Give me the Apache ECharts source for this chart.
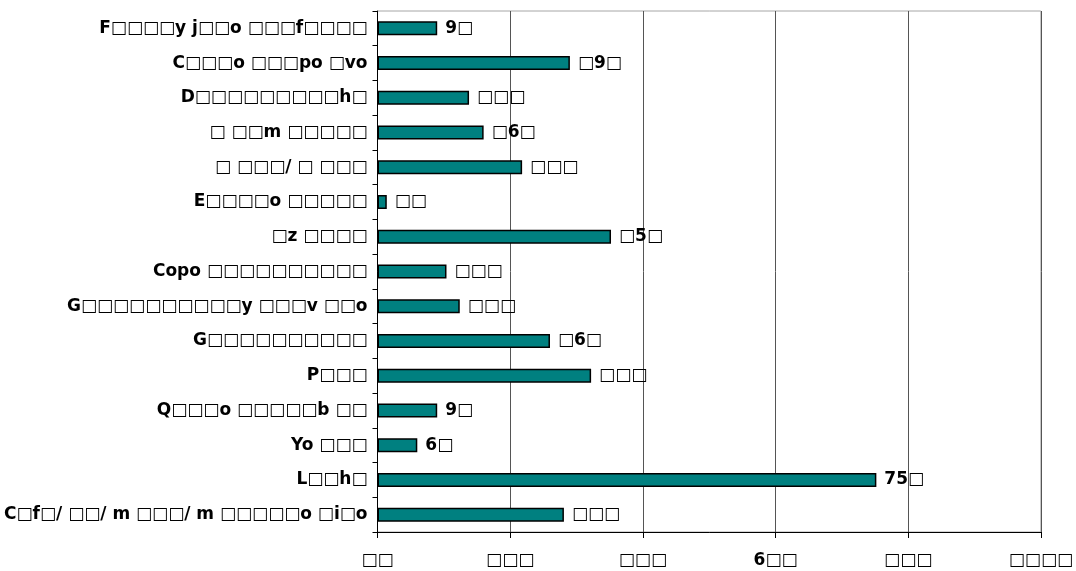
<!DOCTYPE html>
<html>
<head>
<meta charset="utf-8">
<script src="https://cdn.jsdelivr.net/npm/echarts@6/dist/echarts.min.js"></script>
<style>html,body{margin:0;padding:0;background:#fff}#c{width:1076px;height:571px}</style>
</head>
<body>
<div id="c"></div>
<script>
const categories = [
  "F□□□□y j□□o □□□f□□□□",
  "C□□□o □□□po □vo",
  "D□□□□□□□□□h□",
  "□ □□m □□□□□",
  "□ □□□/ □ □□□",
  "E□□□□o □□□□□",
  "□z □□□□",
  "Copo □□□□□□□□□□",
  "G□□□□□□□□□□y □□□v □□o",
  "G□□□□□□□□□□",
  "P□□□",
  "Q□□□o □□□□□b □□",
  "Yo □□□",
  "L□□h□",
  "C□f□/ □□/ m □□□/ m □□□□□o □i□o"
];
const values = [90, 290, 138, 160, 218, 14, 352, 104, 124, 260, 322, 90, 60, 752, 281];
const barLabels = ["9□","□9□","□□□","□6□","□□□","□□","□5□","□□□","□□□","□6□","□□□","9□","6□","75□","□□□"];
const tickValues = [0, 200, 400, 600, 800, 1000];
const tickLabels = ["□□","□□□","□□□","6□□","□□□","□□□□"];

const chart = echarts.init(document.getElementById('c'));
const font = "'DejaVu Sans', Verdana, sans-serif";
chart.setOption({
  animation: false,
  grid: {left: 377.5, right: 35, top: 11, bottom: 39, show: true, borderColor: '#a6a6a6', borderWidth: 1},
  xAxis: {
    type: 'value', min: 0, max: 1000, interval: 200,
    axisLine: {show: true, lineStyle: {color: '#000', width: 1}},
    axisTick: {show: true, length: 6, lineStyle: {color: '#000'}},
    splitLine: {show: true, lineStyle: {color: '#555', width: 1}},
    axisLabel: {
      margin: 20, color: '#000', fontFamily: font, fontWeight: 'bold', fontSize: 17,
      formatter: v => tickLabels[tickValues.indexOf(v)]
    }
  },
  yAxis: {
    type: 'category', inverse: true, data: categories,
    axisLine: {show: true, lineStyle: {color: '#000', width: 1}},
    axisTick: {show: true, length: 5, lineStyle: {color: '#000'}},
    axisLabel: {margin: 10, color: '#000', fontFamily: font, fontWeight: 'bold', fontSize: 17}
  },
  series: [{
    type: 'bar', data: values, barWidth: 14,
    itemStyle: {color: '#008080', borderColor: '#000', borderWidth: 1.5},
    label: {
      show: true, position: 'right', distance: 8, color: '#000',
      fontFamily: font, fontWeight: 'bold', fontSize: 17,
      formatter: p => barLabels[p.dataIndex]
    }
  }]
});
</script>
</body>
</html>
